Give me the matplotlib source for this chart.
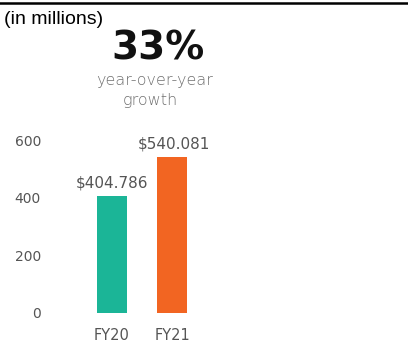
import matplotlib.pyplot as plt

categories = ["FY20", "FY21"]
revenue = [404.786, 540.081]
value_labels = ["$404.786", "$540.081"]
yticks = [0, 200, 400, 600]
colors = ["#1bb597", "#f26522"]

W, H = 408, 348
fig = plt.figure(figsize=(W / 100, H / 100), dpi=100)

# top rule
fig.add_artist(plt.Line2D([0, 1], [1 - 2.5 / H, 1 - 2.5 / H], color="black", lw=1.8))

fig.text(4 / W, 1 - 19 / H, "(in millions)", family="Liberation Sans", fontsize=14,
         va="center", ha="left", color="black")
fig.text(158 / W, 1 - 49 / H, "33%", family="DejaVu Sans", fontweight="bold", fontsize=28,
         ha="center", va="center", color="#111111")
fig.text(155 / W, 1 - 80 / H, "year-over-year", family="DejaVu Sans", fontweight="light",
         fontsize=11.5, ha="center", va="center", color="#707070")
fig.text(150 / W, 1 - 100 / H, "growth", family="DejaVu Sans", fontweight="light",
         fontsize=11.5, ha="center", va="center", color="#707070")

# axes: x 0 -> 112px, 1 -> 172px ; y 0 -> 313px, 600 -> 140px
left = 52 / W
width = 180 / W
bottom = (H - 313) / H
height = (640 * 173 / 600) / H
ax = fig.add_axes([left, bottom, width, height])
x = range(len(categories))
ax.bar(x, revenue, width=0.5, color=colors)
ax.set_xlim(-1, 2)
ax.set_ylim(0, 640)
ax.set_yticks(yticks)
ax.set_xticks(list(x))
ax.set_xticklabels(categories)
for s in ax.spines.values():
    s.set_visible(False)
ax.tick_params(length=0, labelsize=10, labelcolor="#555555")
ax.tick_params(axis="y", pad=8)
ax.tick_params(axis="x", pad=11, labelsize=10.5)
for i, v in enumerate(revenue):
    ax.annotate(value_labels[i], (i, v), xytext=(1.5 if i else 0, 4), textcoords="offset points",
                ha="center", va="bottom", fontsize=11, color="#555555")

fig.savefig("out.png", dpi=100)
